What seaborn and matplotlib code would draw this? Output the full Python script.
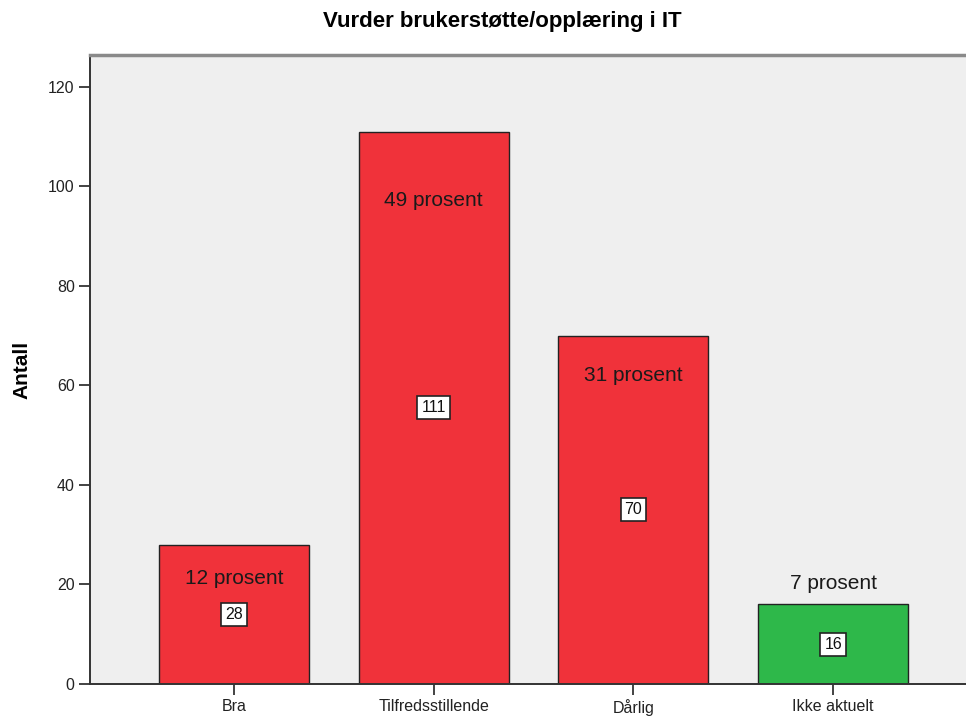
import pandas as pd
import matplotlib.pyplot as plt
import seaborn as sns

# Data
categories = ['Bra', 'Tilfredsstillende', 'Dårlig', 'Ikke aktuelt']
counts = [28, 111, 70, 16]
percents = [12, 49, 31, 7]
bar_colors = ['#F0323A', '#F0323A', '#F0323A', '#2EB84A']

df = pd.DataFrame({'kategori': categories, 'antall': counts})

sns.set_style('ticks')
plt.rcParams['font.family'] = ['Liberation Sans', 'DejaVu Sans']

fig = plt.figure(figsize=(9.66, 7.18), dpi=100)
ax = fig.add_axes([90 / 966, 34 / 718, 876 / 966, 629 / 718])
ax.set_facecolor('#EFEFEF')

sns.barplot(data=df, x='kategori', y='antall', hue='kategori',
            palette=bar_colors, saturation=1, width=0.75,
            edgecolor='#222222', linewidth=1.0, legend=False, ax=ax)

ax.set_xlim(-0.72, 3.665)
ax.set_ylim(0, 126.4)
ax.set_yticks([0, 20, 40, 60, 80, 100, 120])
ax.tick_params(axis='both', length=8, width=1.2, color='#222222',
               labelsize=11.5, labelcolor='#222222', pad=3, direction='out')

ax.spines['right'].set_visible(False)
ax.spines['top'].set_visible(True)
ax.spines['top'].set_color('#8A8A8A')
ax.spines['top'].set_linewidth(2.5)
ax.spines['left'].set_color('#333333')
ax.spines['left'].set_linewidth(1.4)
ax.spines['bottom'].set_color('#333333')
ax.spines['bottom'].set_linewidth(1.4)

ax.set_xlabel('')
ax.set_ylabel('Antall', fontsize=15, fontweight='bold', labelpad=12,
              color='black')
fig.suptitle('Vurder brukerstøtte/opplæring i IT', fontsize=16,
             fontweight='bold', y=0.985, x=0.52, color='black')

# percent labels: offset from bar top (data units)
pct_offsets = [-6.7, -13.9, -8.1, 4.1]
for i, (c, p) in enumerate(zip(counts, percents)):
    ax.text(i, c + pct_offsets[i], f'{p} prosent', ha='center', va='center',
            fontsize=15, color='#1a1a1a')
    ax.text(i, c / 2, str(c), ha='center', va='center', fontsize=11.5,
            color='#111111',
            bbox=dict(boxstyle='square,pad=0.25', facecolor='white',
                      edgecolor='#222222', linewidth=1.2))

fig.savefig('out.png', dpi=100)
